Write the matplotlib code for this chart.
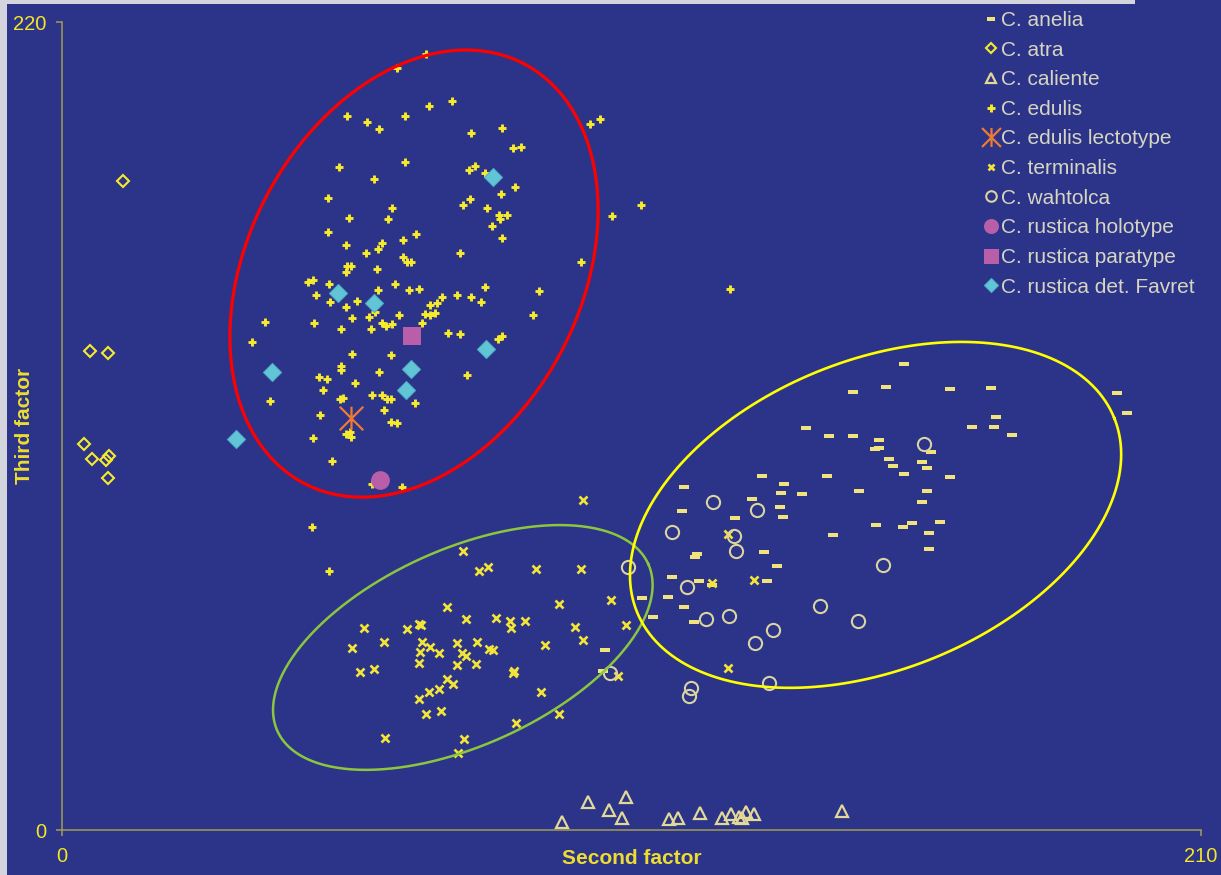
import numpy as np
import matplotlib
matplotlib.use('Agg')
import matplotlib.pyplot as plt
from matplotlib.path import Path
from matplotlib.patches import Rectangle

plt.rcParams['font.family'] = ['Liberation Sans', 'DejaVu Sans']

# --- data ---
anelia_x = [155.3, 145.8, 151.9, 163.7, 171.2, 172.2, 167.8, 171.9, 175.2, 137.2,
            141.5, 145.8, 150.6, 149.9, 150.6, 160.2, 152.5, 153.2, 158.5, 159.4,
            155.3, 163.8, 129.1, 141.0, 114.7, 133.2, 132.6, 136.4, 147.0, 159.4,
            158.6, 127.3, 132.4, 133.0, 114.3, 124.1, 150.1, 155.1, 156.7, 161.9,
            159.9, 159.9, 142.1, 117.1, 116.7, 129.4, 131.8, 112.4, 117.5, 119.8,
            130.0, 111.8, 114.7, 106.9, 109.0, 116.6, 194.6, 196.4, 100.1, 99.8]
anelia_y = [127.0, 119.3, 120.7, 120.1, 120.3, 112.4, 109.8, 109.6, 107.6, 109.4,
            107.3, 107.4, 106.2, 103.7, 104.0, 102.8, 101.0, 99.1, 100.1, 98.5,
            97.0, 96.0, 96.3, 96.3, 93.4, 94.1, 91.7, 91.5, 92.3, 92.3,
            89.2, 90.2, 87.9, 85.3, 86.9, 85.0, 83.0, 82.4, 83.5, 83.9,
            80.8, 76.6, 80.3, 75.1, 74.4, 75.6, 71.9, 69.0, 67.9, 66.7,
            67.7, 63.5, 60.8, 63.1, 58.1, 56.7, 119.1, 113.6, 49.1, 43.3]

atra_x = [11.2, 5.2, 8.4, 4.1, 5.6, 8.2, 8.6, 8.5]
atra_y = [176.7, 130.5, 130.0, 105.2, 100.9, 100.7, 101.9, 95.8]

caliente_x = [92.1, 97.0, 100.9, 103.2, 103.9, 111.9, 113.6, 117.6, 121.6, 123.3,
              124.8, 125.4, 126.1, 127.6, 143.8]
caliente_y = [2.3, 7.5, 5.4, 3.2, 9.1, 2.9, 3.4, 4.5, 3.4, 4.3,
              3.5, 3.2, 4.8, 4.4, 5.2]

edulis_x = [67.1, 61.8, 71.9, 67.7, 52.5, 63.2, 56.2, 58.4, 75.4, 81.1,
            83.2, 84.6, 51.1, 63.2, 57.5, 75.0, 76.1, 78.0, 83.5, 80.9,
            49.0, 60.8, 73.9, 75.2, 78.4, 52.9, 60.1, 80.6, 82.0, 80.8,
            79.3, 49.0, 65.3, 62.9, 81.1, 52.4, 59.0, 58.3, 56.0, 73.4,
            62.9, 63.6, 64.3, 52.5, 53.3, 52.4, 58.1, 45.4, 46.3, 49.2,
            46.8, 61.4, 58.3, 64.0, 65.8, 78.0, 87.9, 70.1, 72.8, 75.4,
            49.4, 54.4, 52.4, 77.3, 69.1, 67.8, 86.8, 37.4, 46.5, 53.5,
            56.6, 57.7, 62.1, 59.0, 59.7, 60.8, 57.0, 51.4, 66.4, 66.9,
            67.8, 68.8, 71.2, 73.4, 80.4, 81.1, 35.0, 53.5, 60.7, 51.4,
            51.4, 58.4, 47.4, 48.9, 74.7, 54.0, 48.1, 38.3, 51.3, 51.8,
            57.2, 59.0, 59.9, 60.7, 65.1, 59.4, 47.6, 60.7, 61.8, 46.3,
            52.4, 53.3, 53.1, 49.8, 57.2, 62.7, 46.1, 49.2,
            97.3, 99.2, 106.7, 101.4, 95.7, 123.2]
edulis_y = [211.3, 207.5, 198.5, 197.1, 194.4, 194.4, 192.8, 190.9, 189.8, 191.1,
            185.7, 186.0, 180.5, 181.9, 177.2, 179.7, 180.8, 178.9, 175.1, 173.2,
            172.1, 169.3, 170.2, 171.8, 169.3, 166.6, 166.4, 167.4, 167.4, 166.4,
            164.4, 162.8, 162.3, 160.6, 161.2, 159.3, 159.8, 158.2, 157.1, 157.1,
            156.0, 154.6, 154.6, 153.6, 153.6, 151.9, 152.7, 149.2, 149.7, 148.7,
            145.7, 148.7, 147.0, 147.0, 147.3, 147.8, 146.7, 145.1, 145.7, 145.1,
            143.8, 144.0, 142.4, 143.8, 143.5, 142.9, 140.2, 138.3, 138.0, 139.4,
            139.7, 141.0, 140.2, 138.0, 137.2, 137.8, 136.4, 136.4, 138.0, 140.5,
            140.2, 140.8, 135.3, 135.0, 133.7, 134.5, 132.9, 129.6, 129.3, 126.3,
            125.2, 124.7, 123.3, 122.8, 123.9, 121.7, 119.8, 116.8, 117.3, 117.6,
            118.4, 118.4, 117.3, 117.3, 116.3, 114.3, 113.0, 111.1, 110.8, 106.7,
            107.8, 107.0, 108.4, 100.5, 94.2, 93.4, 82.5, 70.5,
            192.2, 193.6, 170.2, 167.2, 154.6, 147.3]

lecto_x = [53.3]
lecto_y = [112.1]

terminalis_x = [96.0, 73.9, 76.8, 78.5, 87.4, 95.6, 71.0, 91.6, 101.3, 55.7,
                63.6, 65.8, 66.1, 74.4, 80.0, 82.6, 82.8, 85.3, 94.5, 103.9,
                96.0, 53.4, 59.4, 66.3, 67.8, 66.0, 69.5, 72.8, 76.6, 73.8,
                74.4, 78.8, 79.4, 89.1, 65.8, 72.8, 76.3, 54.9, 57.5, 83.1,
                83.3, 70.9, 72.1, 69.6, 67.7, 65.8, 88.4, 67.1, 69.9, 83.7,
                91.6, 59.6, 74.1, 73.0, 102.5, 122.7, 119.8, 127.5, 122.7]
terminalis_y = [89.8, 76.0, 70.4, 71.6, 71.1, 71.1, 60.7, 61.4, 62.5, 55.1,
                54.6, 56.1, 55.9, 57.4, 57.8, 56.9, 54.9, 56.9, 55.4, 55.7,
                51.7, 49.5, 51.1, 51.3, 49.9, 48.5, 48.2, 50.9, 51.1, 48.3,
                47.5, 49.3, 49.1, 50.3, 45.4, 44.9, 45.1, 43.0, 43.9, 42.7,
                43.2, 41.1, 39.7, 38.3, 37.5, 35.7, 37.5, 31.7, 32.4, 29.1,
                31.5, 25.0, 24.8, 21.0, 41.9, 80.5, 67.2, 68.1, 44.2]

wahtolca_x = [159.0, 120.1, 128.1, 112.5, 123.9, 124.3, 104.4, 151.4, 115.3, 139.8,
              146.7, 118.8, 123.0, 131.0, 127.8, 130.4, 115.9, 115.6, 101.0]
wahtolca_y = [105.1, 89.2, 87.1, 81.1, 80.1, 75.9, 71.7, 72.1, 66.2, 61.0,
              56.9, 57.4, 58.3, 54.5, 50.8, 39.9, 38.7, 36.5, 42.7]

holo_x = [58.7]
holo_y = [95.3]
para_x = [64.6]
para_y = [134.4]

favret_x = [50.9, 57.6, 38.8, 64.3, 63.4, 32.0, 79.4, 78.2]
favret_y = [146.1, 143.4, 124.8, 125.5, 119.9, 106.5, 177.8, 130.9]

# ellipses: centre, first and second semi-axis vectors (data units)
red_ell = [(64.9, 151.5), (20.3, 57.1), (-27.2, 21.1)]
green_ell = [(73.9, 49.7), (34.2, 22.7), (-7.4, 24.4)]
yellow_ell = [(150.0, 85.8), (44.0, 26.4), (-10.7, 39.0)]

BG = '#2B3488'
TXT = '#F4E526'

dash = Path([(-1, -0.48), (1, -0.48), (1, 0.48), (-1, 0.48), (-1, -0.48)],
            [Path.MOVETO, Path.LINETO, Path.LINETO, Path.LINETO, Path.CLOSEPOLY])
star = Path([(0, -1), (0, 1), (-1, -1), (1, 1), (-1, 1), (1, -1)],
            [Path.MOVETO, Path.LINETO, Path.MOVETO, Path.LINETO, Path.MOVETO, Path.LINETO])

fig = plt.figure(figsize=(12.21, 8.75), dpi=100, facecolor=BG)
ax = fig.add_axes([62 / 1221, 45 / 875, 1139 / 1221, 808 / 875])
ax.set_facecolor(BG)

fig.add_artist(Rectangle((0, 0), 7 / 1221, 1, transform=fig.transFigure,
                         color='#D4D4DE', lw=0))
fig.add_artist(Rectangle((0, 1 - 4 / 875), 1135 / 1221, 4 / 875,
                         transform=fig.transFigure, color='#D4D4DE', lw=0))

kw = dict(ls='none', clip_on=False)
ax.plot(anelia_x, anelia_y, marker=dash, ms=7.5, color='#F0E27C', mew=0,
        label='C. anelia', **kw)
ax.plot(atra_x, atra_y, marker='D', ms=6, mfc='none', mec='#F7EA2C', mew=1.5,
        label='C. atra', **kw)
ax.plot(caliente_x, caliente_y, marker='^', ms=8.5, mfc='none', mec='#E2D898',
        mew=1.6, label='C. caliente', **kw)
ax.plot(edulis_x, edulis_y, marker='+', ms=6.4, mec='#F6EA2C', mew=2.1,
        label='C. edulis', **kw)
ax.plot(lecto_x, lecto_y, marker=star, ms=17, mfc='none', mec='#EE7A33', mew=1.6,
        label='C. edulis lectotype', **kw)
ax.plot(terminalis_x, terminalis_y, marker='x', ms=5.6, mec='#F2E438', mew=1.9,
        label='C. terminalis', **kw)
ax.plot(wahtolca_x, wahtolca_y, marker='o', ms=9.5, mfc='none', mec='#DAD3A2',
        mew=1.5, label='C. wahtolca', **kw)
ax.plot(holo_x, holo_y, marker='o', ms=13.5, color='#B95EA8', mew=0,
        label='C. rustica holotype', **kw)
ax.plot(para_x, para_y, marker='s', ms=13.5, color='#B95EA8', mew=0,
        label='C. rustica paratype', **kw)
ax.plot(favret_x, favret_y, marker='D', ms=9.5, color='#62C5D5', mec='#4FB0C8',
        mew=0.8, label='C. rustica det. Favret', **kw)


def ellipse(e, color, lw):
    t = np.linspace(0, 2 * np.pi, 400)
    (cx, cy), (ux, uy), (vx, vy) = e
    ax.plot(cx + ux * np.cos(t) + vx * np.sin(t),
            cy + uy * np.cos(t) + vy * np.sin(t), color=color, lw=lw, zorder=5)


ellipse(red_ell, '#FF0000', 2.3)
ellipse(green_ell, '#8CC63F', 1.8)
ellipse(yellow_ell, '#FFFF00', 1.9)

ax.set_xlim(0, 210)
ax.set_ylim(0, 220)
ax.set_xticks([0, 210])
ax.set_yticks([0, 220])
for s in ['top', 'right']:
    ax.spines[s].set_visible(False)
for s in ['left', 'bottom']:
    ax.spines[s].set_color('#A39C55')
    ax.spines[s].set_linewidth(1.1)
ax.tick_params(colors='#A39C55', length=4.5, width=1.1, labelsize=14.5,
               labelcolor=TXT)
ax.tick_params(axis='x', pad=8)
ax.tick_params(axis='y', pad=7)

ax.set_xlabel('Second factor', color='#EEDD30', fontsize=15, fontweight='bold')
ax.set_ylabel('Third factor', color='#EEDD30', fontsize=15, fontweight='bold')
ax.xaxis.set_label_coords(0.5, -0.0347)
ax.xaxis.label.set_va('center')
ax.yaxis.set_label_coords(-0.0325, 0.5)
ax.yaxis.label.set_va('center')

leg = fig.legend(loc='upper left', bbox_to_anchor=(985 / 1221, 1 - 11 / 875),
                 frameon=False, fontsize=15, labelcolor='#D7D5C2',
                 handlelength=0.6, handletextpad=0.15, labelspacing=0.51,
                 borderpad=0, borderaxespad=0, markerscale=0.8)

fig.savefig('out.png', dpi=100, facecolor=BG)
